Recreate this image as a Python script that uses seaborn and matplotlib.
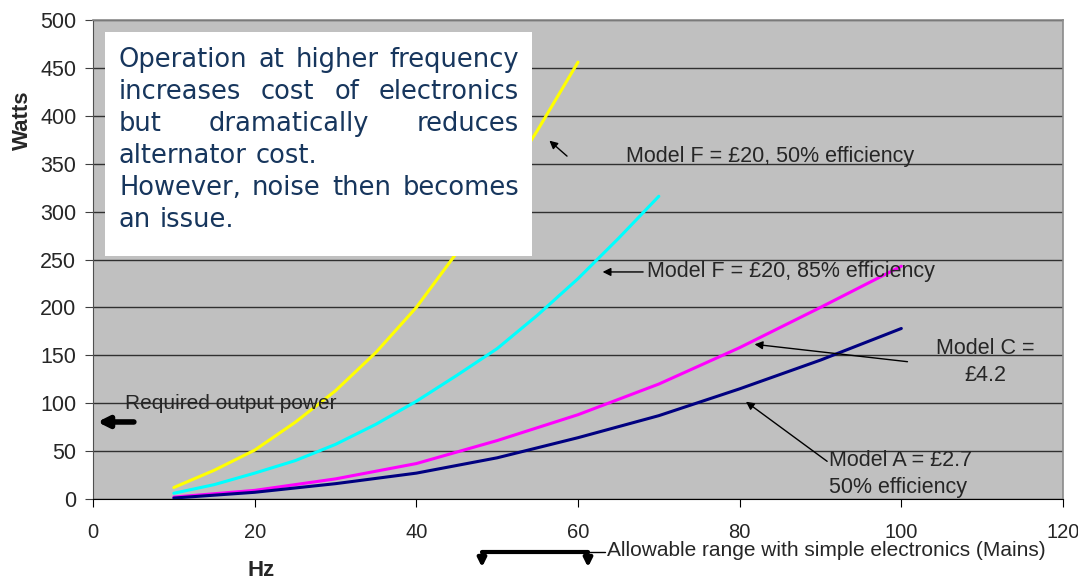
import pandas as pd
import matplotlib.pyplot as plt
import matplotlib.patches as mpatches
import seaborn as sns

# Power curves (Hz vs Watts)
hz_f50 = [10, 15, 20, 25, 30, 35, 40, 45, 50, 55, 60]
watts_f50 = [12, 30, 51, 80, 113, 153, 200, 257, 318, 385, 456]

hz_f85 = [10, 15, 20, 25, 30, 35, 40, 45, 50, 55, 60, 65, 70]
watts_f85 = [6, 15, 27, 40, 57, 78, 102, 129, 157, 192, 230, 272, 316]

hz_c = [10, 20, 30, 40, 50, 60, 70, 80, 90, 100]
watts_c = [2, 9, 21, 37, 61, 88, 120, 158, 200, 243]

hz_a = [10, 20, 30, 40, 50, 60, 70, 80, 90, 100]
watts_a = [1, 7, 16, 27, 43, 64, 87, 115, 145, 178]

models = ["F50", "F85", "C", "A"]
colors = ["#FFFF00", "#00FFFF", "#FF00FF", "#000080"]

x_ticks = [0, 20, 40, 60, 80, 100, 120]
y_ticks = [0, 50, 100, 150, 200, 250, 300, 350, 400, 450, 500]

note_lines = [
    ("Operation at higher frequency", True),
    ("increases cost of electronics", True),
    ("but dramatically reduces", True),
    ("alternator cost.", False),
    ("However, noise then becomes", True),
    ("an issue.", False),
]

df = pd.concat([
    pd.DataFrame({"Hz": hz_f50, "Watts": watts_f50, "model": "F50"}),
    pd.DataFrame({"Hz": hz_f85, "Watts": watts_f85, "model": "F85"}),
    pd.DataFrame({"Hz": hz_c, "Watts": watts_c, "model": "C"}),
    pd.DataFrame({"Hz": hz_a, "Watts": watts_a, "model": "A"}),
])

sns.set_style("ticks")
plt.rcParams["font.family"] = ["Liberation Sans", "DejaVu Sans"]

W, H = 1078, 579
fig = plt.figure(figsize=(W / 100, H / 100), dpi=100)
ax = fig.add_axes([93 / W, 1 - 499 / H, 970 / W, 479 / H])
ax.set_facecolor("#C0C0C0")

sns.lineplot(data=df, x="Hz", y="Watts", hue="model", hue_order=models,
             palette=colors, legend=False, lw=2.2, estimator=None, ax=ax, zorder=3)

ax.set_xlim(0, 120)
ax.set_ylim(0, 500)
ax.set_xticks(x_ticks)
ax.set_yticks(y_ticks)
ax.tick_params(axis="x", labelsize=14.5, length=6, pad=11, color="black")
ax.tick_params(axis="y", labelsize=15.5, length=6, pad=6, color="#404040")
ax.yaxis.grid(True, color="#303030", lw=1)
ax.xaxis.grid(False)
ax.set_xlabel("")
ax.set_ylabel("")
for side in ["top", "right"]:
    ax.spines[side].set_visible(True)
    ax.spines[side].set_color("#8a8a8a")
    ax.spines[side].set_linewidth(1.2)
ax.spines["left"].set_color("#505050")
ax.spines["bottom"].set_color("black")

fig.text(22 / W, 1 - 120 / H, "Watts", rotation=90, ha="center", va="center",
         fontsize=16, fontweight="bold")
fig.text(261 / W, 1 - 570 / H, "Hz", ha="center", va="center",
         fontsize=16, fontweight="bold")

# annotations
arrow = dict(arrowstyle="-|>", color="black", lw=1, mutation_scale=12)
ax.text(65.9, 357, "Model F = £20, 50% efficiency", fontsize=15.5, va="center")
ax.annotate("", xy=(56.2, 376), xytext=(58.9, 356), arrowprops=arrow)

ax.text(68.5, 237, "Model F = £20, 85% efficiency", fontsize=15.5, va="center")
ax.annotate("", xy=(62.7, 237), xytext=(68.4, 237), arrowprops=arrow)

ax.text(110.4, 143, "Model C =\n£4.2", fontsize=15.5, ha="center", va="center",
        linespacing=1.4)
ax.annotate("", xy=(81.5, 161.8), xytext=(101.1, 143), arrowprops=arrow)

ax.text(91.1, 26.0, "Model A = £2.7\n50% efficiency", fontsize=15.5, va="center",
        linespacing=1.4)
ax.annotate("", xy=(80.5, 103.3), xytext=(91.1, 37.6), arrowprops=arrow)

ax.text(3.95, 100.2, "Required output power", fontsize=15, va="center", zorder=4)
ax.annotate("", xy=(0.2, 80.4), xytext=(5.4, 80.4),
            arrowprops=dict(arrowstyle="-|>", color="black", lw=4, mutation_scale=16))

# mains bracket below the axis
thick = dict(arrowstyle="-|>", color="black", lw=3, mutation_scale=12)
ax.annotate("", xy=(482, H - 570), xytext=(482, H - 552), xycoords="figure pixels",
            textcoords="figure pixels", arrowprops=thick, annotation_clip=False)
ax.annotate("", xy=(588, H - 570), xytext=(588, H - 552), xycoords="figure pixels",
            textcoords="figure pixels", arrowprops=thick, annotation_clip=False)
fig.add_artist(plt.Line2D([482 / W, 588 / W], [1 - 552 / H, 1 - 552 / H],
                          color="black", lw=3, transform=fig.transFigure))
fig.add_artist(plt.Line2D([588 / W, 605 / W], [1 - 552 / H, 1 - 552 / H],
                          color="black", lw=1, transform=fig.transFigure))
fig.text(607 / W, 1 - 551 / H, "Allowable range with simple electronics (Mains)",
         fontsize=15, va="center")

# white note box with justified text
box = mpatches.Rectangle((105 / W, 1 - 256 / H), 427 / W, 224 / H,
                         transform=fig.transFigure, facecolor="white",
                         edgecolor="none", zorder=5)
fig.add_artist(box)

renderer = fig.canvas.get_renderer()
left, right = 119, 519
for i, (line, justify) in enumerate(note_lines):
    base = 67 + 32 * i
    words = line.split(" ")
    texts = [fig.text(0, 0, w, fontsize=18.5, color="#17365D", va="baseline",
                      family="DejaVu Sans", zorder=6) for w in words]
    widths = [t.get_window_extent(renderer).width for t in texts]
    if justify and len(words) > 1:
        gap = (right - left - sum(widths)) / (len(words) - 1)
    else:
        gap = texts[0].get_fontsize() * 0.318 * 100 / 72
    x = left
    for t, w in zip(texts, widths):
        t.set_position((x / W, 1 - base / H))
        x += w + gap

plt.savefig("out.png", dpi=100)
